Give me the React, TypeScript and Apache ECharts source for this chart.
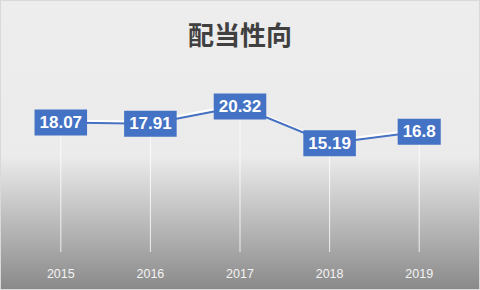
import React, { useEffect, useRef } from "react";
import * as echarts from "echarts";

const categories = ["2015", "2016", "2017", "2018", "2019"];
const payoutRatio = [18.07, 17.91, 20.32, 15.19, 16.8];
const titleText = "配当性向";

export default function App() {
  const ref = useRef<HTMLDivElement>(null);
  useEffect(() => {
    document.body.style.margin = "0";
    const chart = echarts.init(ref.current!, undefined, { renderer: "svg" });
    chart.setOption({
      animation: false,
      backgroundColor: {
        type: "linear",
        x: 0,
        y: 0,
        x2: 0,
        y2: 1,
        colorStops: [
          { offset: 0, color: "#ededed" },
          { offset: 0.54, color: "#ebebeb" },
          { offset: 1, color: "#8a8a8a" },
        ],
      },
      title: {
        text: titleText,
        left: "center",
        top: 19,
        padding: 0,
        textStyle: {
          fontFamily: "Noto Sans CJK JP",
          fontSize: 26,
          fontWeight: "bold",
          color: "#404040",
        },
      },
      grid: { left: 15, right: 15, top: 72, bottom: 37 },
      xAxis: {
        type: "category",
        data: categories,
        axisLine: { show: false },
        axisTick: { show: false },
        splitLine: { show: false },
        axisLabel: {
          color: "#f4f4f4",
          fontSize: 12.5,
          fontFamily: "Liberation Sans",
          margin: 15,
        },
      },
      yAxis: {
        type: "value",
        min: 0,
        max: 25,
        show: false,
        splitLine: { show: false },
      },
      series: [
        {
          type: "bar",
          data: payoutRatio,
          barWidth: 1,
          itemStyle: { color: "rgba(255,255,255,0.8)" },
          silent: true,
          z: 1,
        },
        {
          type: "line",
          data: payoutRatio,
          symbol: "circle",
          symbolSize: 1,
          itemStyle: { color: "#4472c4" },
          lineStyle: {
            color: "#4472c4",
            width: 2,
            shadowColor: "#ffffff",
            shadowBlur: 0,
            shadowOffsetX: -2,
            shadowOffsetY: -2,
          },
          z: 3,
          label: {
            show: true,
            position: "inside",
            backgroundColor: "#4472c4",
            color: "#ffffff",
            fontFamily: "Liberation Sans",
            fontWeight: "bold",
            fontSize: 17,
            padding: [5, 5, 4, 5],
            formatter: (p: any) => String(p.value),
          },
        },
      ],
    });
    return () => chart.dispose();
  }, []);
  return (
    <div
      ref={ref}
      style={{
        position: "fixed",
        left: 0,
        top: 0,
        width: 480,
        height: 290,
        boxSizing: "border-box",
        border: "1px solid #d9d9d9",
      }}
    />
  );
}
